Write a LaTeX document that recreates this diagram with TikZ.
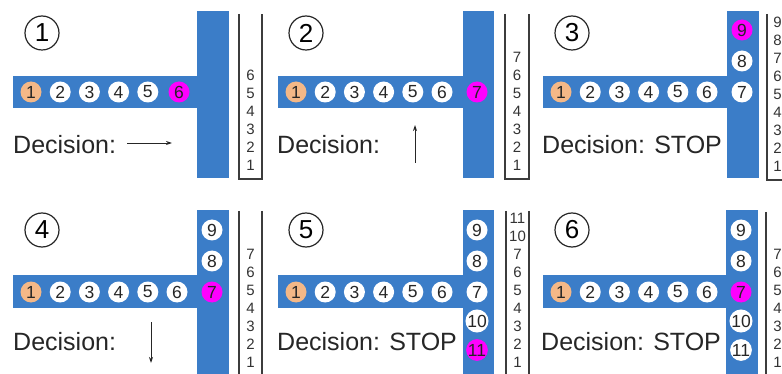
\documentclass[tikz,border=0pt]{standalone}
\usepackage{fontspec}
\setmainfont{Liberation Sans}
\usetikzlibrary{arrows.meta}
\definecolor{barblue}{RGB}{59,125,200}
\definecolor{peach}{RGB}{244,184,135}
\definecolor{mag}{RGB}{255,0,255}
\definecolor{stkgray}{RGB}{60,60,60}
\tikzset{
  bar/.style={fill=barblue, draw=none},
  ball/.style={circle, minimum size=21pt, inner sep=0pt, font=\fontsize{17.5}{17.5}\selectfont, text=black!85},
  wball/.style={ball, fill=white},
  oball/.style={ball, fill=peach},
  mball/.style={ball, fill=mag},
  plabel/.style={circle, draw=black!85, line width=1.2pt, minimum size=34pt, inner sep=0pt, font=\fontsize{26}{26}\selectfont},
  dec/.style={anchor=base west, font=\fontsize{25}{30}\selectfont, inner sep=0pt, text=black!85},
  stk/.style={draw=stkgray, line width=1.3pt},
  snum/.style={font=\fontsize{15}{15}\selectfont, inner sep=0pt, text=black!80},
  decarrow/.style={-{Stealth[length=6pt,width=4pt]}, line width=0.9pt, draw=black!85}
}
\begin{document}
\begin{tikzpicture}[x=1pt,y=-1pt]
\useasboundingbox (0,0) rectangle (782,374);
\clip (0,0) rectangle (782,374);

% ---------------- Panel 1 ----------------
\fill[bar] (13,76) rectangle (198,108);
\fill[bar] (197,11) rectangle (229,178);
\node[plabel] (l1) at (42,33) {1};
\node[oball] (a1) at (31,92) {1};
\node[wball] (a2) at (60.2,92) {2};
\node[wball] (a3) at (89.4,92) {3};
\node[wball] (a4) at (118.6,92) {4};
\node[wball] (a5) at (147.8,92) {5};
\node[mball] (a6) at (179,92) {6};
\node[dec] (d1) at (13,154) {Decision:};
\coordinate (r1s) at (127,143);
\coordinate (r1e) at (172,143);
\draw[decarrow] (r1s) -- (r1e);
\coordinate (s1a) at (239,14); \coordinate (s1b) at (239,179);
\coordinate (s1c) at (262,179); \coordinate (s1d) at (262,14);
\draw[stk] (s1a) -- (s1b) -- (s1c) -- (s1d);
\foreach \k in {1,...,6} { \node[snum] (sa\k) at (250.5,{165-18*(\k-1)}) {\k}; }

% ---------------- Panel 2 ----------------
\fill[bar] (278,76) rectangle (464,108);
\fill[bar] (463,11) rectangle (494,178);
\node[plabel] (l2) at (306,33) {2};
\node[oball] (b1) at (296,92) {1};
\node[wball] (b2) at (325.2,92) {2};
\node[wball] (b3) at (354.4,92) {3};
\node[wball] (b4) at (383.6,92) {4};
\node[wball] (b5) at (412.8,92) {5};
\node[wball] (b6) at (442,92) {6};
\node[mball] (b7) at (477,92) {7};
\node[dec] (d2) at (277,154) {Decision:};
\coordinate (r2s) at (415,163);
\coordinate (r2e) at (415,125);
\draw[decarrow] (r2s) -- (r2e);
\coordinate (s2a) at (505,14); \coordinate (s2b) at (505,179);
\coordinate (s2c) at (529,179); \coordinate (s2d) at (529,14);
\draw[stk] (s2a) -- (s2b) -- (s2c) -- (s2d);
\foreach \k in {1,...,7} { \node[snum] (sb\k) at (517,{165-18*(\k-1)}) {\k}; }

% ---------------- Panel 3 ----------------
\fill[bar] (543,76) rectangle (728,108);
\fill[bar] (727,11) rectangle (759,178);
\node[plabel] (l3) at (572,33) {3};
\node[oball] (c1) at (561,92) {1};
\node[wball] (c2) at (590.2,92) {2};
\node[wball] (c3) at (619.4,92) {3};
\node[wball] (c4) at (648.6,92) {4};
\node[wball] (c5) at (677.8,92) {5};
\node[wball] (c6) at (707,92) {6};
\node[wball] (c7) at (742,92) {7};
\node[wball] (c8) at (742,61) {8};
\node[mball] (c9) at (742,30) {9};
\node[dec] (d3) at (542,154) {Decision: STOP};
\coordinate (s3a) at (767,14); \coordinate (s3b) at (767,180);
\coordinate (s3c) at (791,180);
\draw[stk] (s3a) -- (s3b) -- (s3c);
\foreach \k in {1,...,9} { \node[snum] (sc\k) at (777.5,{166-18*(\k-1)}) {\k}; }

% ---------------- Panel 4 ----------------
\fill[bar] (13,275) rectangle (198,308);
\fill[bar] (197,210) rectangle (229,380);
\node[plabel] (l4) at (42,230) {4};
\node[oball] (e1) at (31,292) {1};
\node[wball] (e2) at (60.2,292) {2};
\node[wball] (e3) at (89.4,292) {3};
\node[wball] (e4) at (118.6,292) {4};
\node[wball] (e5) at (147.8,292) {5};
\node[wball] (e6) at (177,292) {6};
\node[mball] (e7) at (212,292) {7};
\node[wball] (e8) at (212,261) {8};
\node[wball] (e9) at (212,230) {9};
\node[dec] (d4) at (13,350) {Decision:};
\coordinate (r4s) at (151,322);
\coordinate (r4e) at (151,363);
\draw[decarrow] (r4s) -- (r4e);
\coordinate (s4a) at (239,211); \coordinate (s4b) at (239,380);
\coordinate (s4c) at (262,211); \coordinate (s4d) at (262,380);
\draw[stk] (s4a) -- (s4b);
\draw[stk] (s4c) -- (s4d);
\foreach \k in {1,...,7} { \node[snum] (se\k) at (250.5,{362-18*(\k-1)}) {\k}; }

% ---------------- Panel 5 ----------------
\fill[bar] (278,275) rectangle (464,308);
\fill[bar] (463,210) rectangle (494,380);
\node[plabel] (l5) at (306,230) {5};
\node[oball] (f1) at (296,292) {1};
\node[wball] (f2) at (325.2,292) {2};
\node[wball] (f3) at (354.4,292) {3};
\node[wball] (f4) at (383.6,292) {4};
\node[wball] (f5) at (412.8,292) {5};
\node[wball] (f6) at (442,292) {6};
\node[wball] (f7) at (477,292) {7};
\node[wball] (f8) at (477,261) {8};
\node[wball] (f9) at (477,230) {9};
\node[wball] (f10) at (477,321) {10};
\node[mball] (f11) at (477,350) {11};
\node[dec] (d5) at (277,350) {Decision: STOP};
\coordinate (s5a) at (506,211); \coordinate (s5b) at (506,380);
\coordinate (s5c) at (529,211); \coordinate (s5d) at (529,380);
\draw[stk] (s5a) -- (s5b);
\draw[stk] (s5c) -- (s5d);
\foreach \v [count=\k] in {1,2,3,4,5,6,7,10,11} { \node[snum] (sf\k) at (517.5,{362-18*(\k-1)}) {\v}; }

% ---------------- Panel 6 ----------------
\fill[bar] (543,275) rectangle (728,308);
\fill[bar] (726,210) rectangle (758,380);
\node[plabel] (l6) at (572,230) {6};
\node[oball] (g1) at (561,292) {1};
\node[wball] (g2) at (590.2,292) {2};
\node[wball] (g3) at (619.4,292) {3};
\node[wball] (g4) at (648.6,292) {4};
\node[wball] (g5) at (677.8,292) {5};
\node[wball] (g6) at (707,292) {6};
\node[mball] (g7) at (741,292) {7};
\node[wball] (g8) at (741,261) {8};
\node[wball] (g9) at (741,230) {9};
\node[wball] (g10) at (741,321) {10};
\node[wball] (g11) at (741,350) {11};
\node[dec] (d6) at (541,350) {Decision: STOP};
\coordinate (s6a) at (766,212); \coordinate (s6b) at (766,380);
\draw[stk] (s6a) -- (s6b);
\foreach \k in {1,...,7} { \node[snum] (sg\k) at (777.5,{362-18*(\k-1)}) {\k}; }
\end{tikzpicture}
\end{document}
